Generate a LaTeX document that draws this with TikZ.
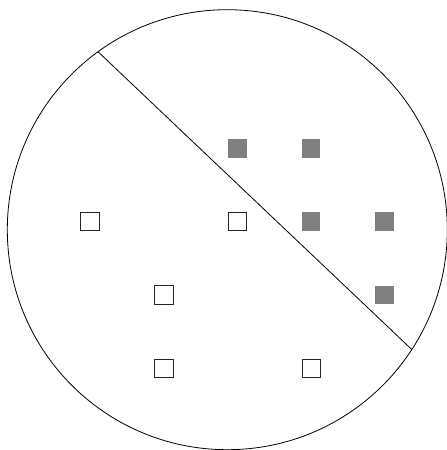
\documentclass[tikz,border=0pt]{standalone}
\begin{document}
\begin{tikzpicture}[x=1pt,y=-1pt,
  ring/.style={draw=black,circle,line width=0.8pt,inner sep=0pt,outer sep=0pt,minimum size=440pt},
  sq/.style={rectangle,inner sep=0pt,outer sep=0pt,minimum size=18.5pt},
  openbox/.style={sq,draw=black!85,fill=white,line width=0.8pt},
  fullbox/.style={sq,fill=black!50,draw=none},
  cut/.style={draw=black,line width=0.8pt}]
\useasboundingbox (0,0) rectangle (447,450);
\node[ring] (c) at (227.3,229.7) {};
\coordinate (p) at (c.126.8);
\coordinate (q) at (c.-33.4);
\draw[cut] (p) -- (q);
\node[fullbox] (f1) at (237.3,148.3) {};
\node[fullbox] (f2) at (311.2,148.3) {};
\node[fullbox] (f3) at (311.2,221.3) {};
\node[fullbox] (f4) at (384.5,221.3) {};
\node[fullbox] (f5) at (384.5,295) {};
\node[openbox] (o1) at (90,221.3) {};
\node[openbox] (o2) at (237.3,221.3) {};
\node[openbox] (o3) at (164,295) {};
\node[openbox] (o4) at (164,368.3) {};
\node[openbox] (o5) at (311.2,368.3) {};
\end{tikzpicture}
\end{document}
